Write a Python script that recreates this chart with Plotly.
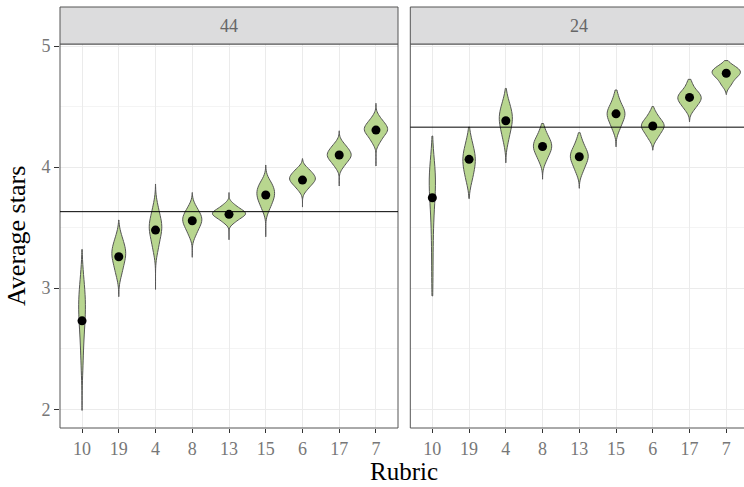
import numpy as np
import plotly.graph_objects as go

rubrics = ["10", "19", "4", "8", "13", "15", "6", "17", "7"]
facets = ["44", "24"]

# hand-read body draws for each violin (facet 44)
draws_44 = {
    "10": [2.35, 2.50, 2.60, 2.68, 2.74, 2.79, 2.83, 2.87, 2.91, 2.96, 3.02, 3.10],
    "19": [3.10, 3.15, 3.19, 3.22, 3.25, 3.27, 3.29, 3.31, 3.33, 3.36, 3.39, 3.44],
    "4": [3.30, 3.36, 3.40, 3.44, 3.47, 3.49, 3.51, 3.53, 3.56, 3.59, 3.63, 3.69],
    "8": [3.43, 3.47, 3.50, 3.52, 3.54, 3.555, 3.57, 3.585, 3.60, 3.62, 3.645, 3.68],
    "13": [3.54, 3.565, 3.58, 3.595, 3.605, 3.612, 3.62, 3.628, 3.64, 3.652, 3.668, 3.695],
    "15": [3.64, 3.68, 3.71, 3.73, 3.75, 3.77, 3.785, 3.80, 3.82, 3.84, 3.86, 3.89],
    "6": [3.81, 3.84, 3.86, 3.875, 3.89, 3.90, 3.91, 3.92, 3.935, 3.95, 3.97, 3.99],
    "17": [4.00, 4.03, 4.055, 4.07, 4.085, 4.095, 4.105, 4.12, 4.135, 4.15, 4.17, 4.20],
    "7": [4.20, 4.235, 4.26, 4.28, 4.295, 4.305, 4.315, 4.33, 4.345, 4.36, 4.38, 4.415],
}
# observed range (tip to tip) of each violin, facet 44
span_44 = {
    "10": [1.99, 3.32], "19": [2.93, 3.563], "4": [2.99, 3.86], "8": [3.255, 3.79],
    "13": [3.40, 3.79], "15": [3.425, 4.017], "6": [3.67, 4.07], "17": [3.844, 4.30],
    "7": [4.009, 4.527],
}
# facet 24
draws_24 = {
    "10": [3.05, 3.30, 3.50, 3.63, 3.72, 3.79, 3.84, 3.88, 3.91, 3.94, 3.98, 4.04],
    "19": [3.87, 3.92, 3.96, 3.99, 4.02, 4.045, 4.065, 4.09, 4.115, 4.145, 4.18, 4.24],
    "4": [4.20, 4.26, 4.30, 4.33, 4.36, 4.385, 4.405, 4.425, 4.45, 4.475, 4.51, 4.56],
    "8": [4.04, 4.08, 4.11, 4.13, 4.15, 4.165, 4.18, 4.195, 4.215, 4.235, 4.26, 4.31],
    "13": [3.95, 3.99, 4.02, 4.045, 4.065, 4.08, 4.095, 4.11, 4.13, 4.15, 4.18, 4.23],
    "15": [4.30, 4.34, 4.37, 4.395, 4.415, 4.43, 4.445, 4.46, 4.48, 4.50, 4.53, 4.585],
    "6": [4.23, 4.26, 4.285, 4.305, 4.32, 4.335, 4.345, 4.355, 4.37, 4.39, 4.41, 4.45],
    "17": [4.47, 4.50, 4.52, 4.54, 4.555, 4.565, 4.575, 4.59, 4.605, 4.62, 4.64, 4.69],
    "7": [4.67, 4.70, 4.725, 4.745, 4.76, 4.77, 4.78, 4.79, 4.80, 4.81, 4.825, 4.845],
}
span_24 = {
    "10": [2.936, 4.257], "19": [3.74, 4.33], "4": [4.036, 4.65], "8": [3.90, 4.36],
    "13": [3.825, 4.284], "15": [4.168, 4.637], "6": [4.14, 4.50], "17": [4.375, 4.725],
    "7": [4.60, 4.88],
}

means_44 = [2.73, 3.26, 3.48, 3.557, 3.61, 3.77, 3.893, 4.10, 4.306]
means_24 = [3.747, 4.064, 4.383, 4.17, 4.086, 4.44, 4.34, 4.576, 4.775]
overall = [3.632, 4.33]

FILL = "#b8d68f"
OUTLINE = "#555555"
FONT = "Liberation Serif"


def silverman(v):
    v = np.asarray(v, float)
    sd = v.std(ddof=1)
    q1, q3 = np.percentile(v, [25, 75])
    a = min(sd, (q3 - q1) / 1.349)
    return 1.059 * a * len(v) ** -0.2


def peak_density(v, bw, span):
    v = np.asarray(v, float)
    g = np.linspace(span[0], span[1], 600)
    d = np.exp(-0.5 * ((g[:, None] - v[None, :]) / bw) ** 2).sum(1) / (len(v) * bw * np.sqrt(2 * np.pi))
    return d.max()


panels = [(draws_44, span_44, means_44, "x", "y"), (draws_24, span_24, means_24, "x2", "y2")]
info = []
for draws, spans, _, xa, ya in panels:
    for r in rubrics:
        bw = silverman(draws[r])
        info.append((xa, ya, r, draws[r], spans[r], bw, peak_density(draws[r], bw, spans[r])))
gmax = max(i[6] for i in info)

fig = go.Figure()
for xa, ya, r, v, sp, bw, pk in info:
    fig.add_trace(go.Violin(
        x=[r] * len(v), y=v, xaxis=xa, yaxis=ya,
        width=0.9 * pk / gmax, bandwidth=bw, spanmode="manual", span=sp,
        points=False, box_visible=False, meanline_visible=False,
        fillcolor=FILL, line=dict(color=OUTLINE, width=1),
        opacity=1, showlegend=False, hoverinfo="skip",
    ))

for _, _, means, xa, ya in panels:
    fig.add_trace(go.Scatter(
        x=rubrics, y=means, xaxis=xa, yaxis=ya, mode="markers",
        marker=dict(color="black", size=9), showlegend=False, hoverinfo="skip",
    ))

W, H = 744, 487
L, R, T, B = 60, 0, 44, 59
pw = W - L - R
ph = H - T - B
d1 = [0, 338 / pw]
d2 = [350.3 / pw, 1]
yr = [1.845, 5.017]

common_x = dict(type="category", categoryorder="array", categoryarray=rubrics,
                showgrid=True, gridcolor="#ebebeb", gridwidth=1,
                ticks="outside", ticklen=4, tickcolor="#333333", tickwidth=1,
                tickfont=dict(family=FONT, size=18, color="#777777"),
                showline=False, zeroline=False)
common_y = dict(range=yr, showgrid=True, gridcolor="#ebebeb", gridwidth=1,
                tickvals=[2, 3, 4, 5], zeroline=False, showline=False,
                minor=dict(tickvals=[2.5, 3.5, 4.5], showgrid=True, gridcolor="#f4f4f4", gridwidth=1, ticks=""))

fig.update_layout(
    width=W, height=H, margin=dict(l=L, r=R, t=T, b=B),
    paper_bgcolor="white", plot_bgcolor="white",
    violinmode="overlay", violingap=0, violingroupgap=0,
    font=dict(family=FONT),
    xaxis=dict(domain=d1, range=[-0.6, 8.6], anchor="y", **common_x),
    xaxis2=dict(domain=d2, range=[-0.6, -0.6 + (pw - 350.3) / (338 / 9.2)], anchor="y2", **common_x),
    yaxis=dict(domain=[0, 1], anchor="x", ticks="outside", ticklen=5, tickcolor="#333333",
               tickfont=dict(family=FONT, size=18, color="#777777"), **common_y),
    yaxis2=dict(domain=[0, 1], anchor="x2", matches="y", showticklabels=False, ticks="", **common_y),
)

sy = 1 + 37 / ph
shapes = []
bc = "#555555"
shapes.append(dict(type="rect", xref="x domain", yref="y domain", x0=0, x1=1, y0=0, y1=1,
                   line=dict(color=bc, width=1), layer="above"))
for (x0, y0, x1, y1) in [(0, 0, 0, 1), (0, 0, 1.02, 0), (0, 1, 1.02, 1)]:
    shapes.append(dict(type="line", xref="x2 domain", yref="y2 domain", x0=x0, x1=x1, y0=y0, y1=y1,
                       line=dict(color=bc, width=1), layer="above"))
shapes.append(dict(type="rect", xref="paper", yref="paper", x0=d1[0], x1=d1[1], y0=1, y1=sy,
                   fillcolor="#dcdcdd", line=dict(color=bc, width=1), layer="above"))
shapes.append(dict(type="rect", xref="paper", yref="paper", x0=d2[0], x1=1.02, y0=1, y1=sy,
                   fillcolor="#dcdcdd", line=dict(color=bc, width=1), layer="above"))
shapes.append(dict(type="line", xref="x domain", yref="y", x0=0, x1=1, y0=overall[0], y1=overall[0],
                   line=dict(color="black", width=1), layer="above"))
shapes.append(dict(type="line", xref="x2 domain", yref="y2", x0=0, x1=1, y0=overall[1], y1=overall[1],
                   line=dict(color="black", width=1), layer="above"))
fig.update_layout(shapes=shapes)

strip_y = 1 + 18.5 / ph
ann = [
    dict(text=facets[0], xref="paper", yref="paper", x=(d1[0] + d1[1]) / 2, y=strip_y,
         showarrow=False, font=dict(family=FONT, size=18, color="#666666"), xanchor="center", yanchor="middle"),
    dict(text=facets[1], xref="paper", yref="paper", x=(579.3 - L) / pw, y=strip_y,
         showarrow=False, font=dict(family=FONT, size=18, color="#666666"), xanchor="center", yanchor="middle"),
    dict(text="Average stars", xref="paper", yref="paper", x=(16 - L) / pw, y=0.5, textangle=-90,
         showarrow=False, font=dict(family=FONT, size=26, color="black"), xanchor="center", yanchor="middle"),
    dict(text="Rubric", xref="paper", yref="paper", x=(404 - L) / pw, y=-(471 - (H - B)) / ph,
         showarrow=False, font=dict(family=FONT, size=25, color="black"), xanchor="center", yanchor="middle"),
]
fig.update_layout(annotations=ann)

fig.write_html("out.html", config={"displayModeBar": False},
               post_script="document.body.style.margin='0';document.body.style.overflow='hidden';")
